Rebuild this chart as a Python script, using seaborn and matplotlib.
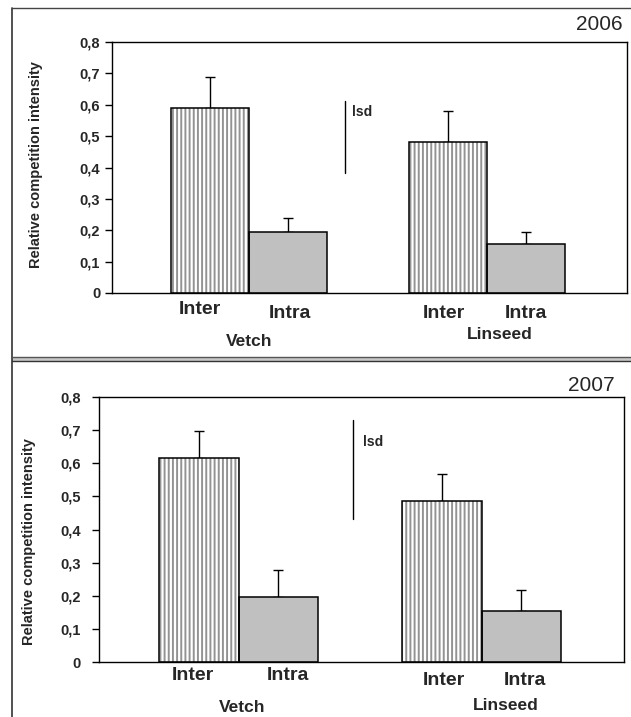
import matplotlib
matplotlib.use("Agg")
import matplotlib.pyplot as plt
from matplotlib.lines import Line2D
from matplotlib.patches import Rectangle
from matplotlib.ticker import FixedLocator, FuncFormatter
import seaborn as sns
import pandas as pd

# ---- data -------------------------------------------------------------
crops = ["Vetch", "Linseed"]
comp_types = ["Inter", "Intra"]

years = ["2006", "2007"]
# mean relative competition intensity, order: Vetch Inter, Vetch Intra, Linseed Inter, Linseed Intra
means_2006 = [0.59, 0.195, 0.48, 0.155]
errs_2006 = [0.10, 0.043, 0.10, 0.040]
means_2007 = [0.615, 0.195, 0.485, 0.155]
errs_2007 = [0.082, 0.083, 0.083, 0.062]

# least significant difference bar: (lower end, length)
lsd_2006 = (0.382, 0.23)
lsd_2007 = (0.431, 0.30)

y_ticks = [0, 0.1, 0.2, 0.3, 0.4, 0.5, 0.6, 0.7, 0.8]

# ---- style ------------------------------------------------------------
sns.set_theme(style="white")
plt.rcParams["font.family"] = ["Liberation Sans", "DejaVu Sans"]
plt.rcParams["hatch.linewidth"] = 1.4

W, H = 631, 717
fig = plt.figure(figsize=(W / 100, H / 100), dpi=100)
fig.patch.set_facecolor("white")

# outer frame of the two panels
fx = 12 / W
fig.add_artist(Line2D([fx, fx], [0, 1 - 8 / H], color="#333333", lw=1.2))
fig.add_artist(Line2D([fx, 1], [1 - 8 / H] * 2, color="#444444", lw=1.0))
fig.add_artist(Rectangle((fx, 1 - 360.5 / H), 1 - fx, 3 / H,
                         facecolor="#c8c8c8", edgecolor="none"))
fig.add_artist(Line2D([fx, 1], [1 - 357.5 / H] * 2, color="#555555", lw=1.0))
fig.add_artist(Line2D([fx, 1], [1 - 360.5 / H] * 2, color="#333333", lw=1.0))

panels = [
    dict(year="2006", means=means_2006, errs=errs_2006, lsd=lsd_2006,
         rect=[112 / W, 1 - 293 / H, 515 / W, 251 / H],
         ylab=(-0.1485, 0.51), year_pos=(0.992, 1.068),
         lsd_x=0.404, lsd_lab=(0.432, 0.578), pad=3.5,
         sub_y=[-0.0657, -0.0797, -0.0797, -0.0797],
         sub_dx=[-0.042, 0.01, -0.019, 0.0],
         grp_y=[-0.195, -0.167], grp_dx=[0.0, 0.052]),
    dict(year="2007", means=means_2007, errs=errs_2007, lsd=lsd_2007,
         rect=[99 / W, 1 - 662 / H, 525 / W, 265 / H],
         ylab=(-0.134, 0.455), year_pos=(0.983, 1.045),
         lsd_x=0.47, lsd_lab=(0.512, 0.663), pad=8,
         sub_y=[-0.051, -0.051, -0.0706, -0.0706],
         sub_dx=[-0.026, 0.041, 0.009, 0.014],
         grp_y=[-0.17, -0.166], grp_dx=[0.016, 0.10]),
]

for p in panels:
    ax = fig.add_axes(p["rect"])
    df = pd.DataFrame({
        "crop": [c for c in crops for _ in comp_types],
        "type": [t for _ in crops for t in comp_types],
        "value": p["means"],
        "err": p["errs"],
    })
    sns.barplot(data=df, x="crop", y="value", hue="type", order=crops,
                hue_order=comp_types, width=0.654, gap=0, errorbar=None,
                palette={"Inter": "white", "Intra": "#c0c0c0"},
                edgecolor="black", linewidth=1.1, legend=False, ax=ax,
                zorder=2)

    # vertical stripes for interspecific bars, outline kept black
    for bar in ax.containers[0].patches:
        bar.set_hatch("||||")
        bar.set_edgecolor("#939393")
        bar.set_linewidth(0)
        ax.add_patch(Rectangle(bar.get_xy(), bar.get_width(), bar.get_height(),
                               fill=False, edgecolor="black", lw=1.1, zorder=3))

    # one-sided error bars
    for hi, t in enumerate(comp_types):
        for ci, c in enumerate(crops):
            bar = ax.containers[hi].patches[ci]
            row = df[(df.crop == c) & (df.type == t)].iloc[0]
            xc = bar.get_x() + bar.get_width() / 2
            ax.errorbar([xc], [row.value], yerr=[[0], [row.err]], fmt="none",
                        ecolor="black", elinewidth=1.0, capsize=3.6,
                        capthick=1.0, zorder=1)
            k = ci * 2 + hi
            ax.text(xc + p["sub_dx"][k], p["sub_y"][k], t,
                    transform=ax.get_xaxis_transform(), ha="center",
                    va="center", fontsize=14, fontweight="bold")

    for ci, c in enumerate(crops):
        ax.text(ci + p["grp_dx"][ci], p["grp_y"][ci], c,
                transform=ax.get_xaxis_transform(), ha="center", va="center",
                fontsize=12.5, fontweight="bold")

    # lsd bar
    lo, ln = p["lsd"]
    ax.plot([p["lsd_x"], p["lsd_x"]], [lo, lo + ln], color="black", lw=1.0)
    ax.text(p["lsd_lab"][0], p["lsd_lab"][1], "lsd", ha="left", va="center",
            fontsize=10, fontweight="bold")

    ax.set_xlim(-0.574, 1.586)
    ax.set_ylim(0, 0.8)
    ax.yaxis.set_major_locator(FixedLocator(y_ticks))
    ax.yaxis.set_major_formatter(
        FuncFormatter(lambda v, _: "0" if v == 0 else f"{v:.1f}".replace(".", ",")))
    ax.set_xticks([])
    ax.set_xlabel("")
    ax.set_ylabel("")
    ax.tick_params(axis="y", which="major", left=True, length=5, width=1,
                   direction="out", pad=p["pad"], labelsize=10.5, color="black")
    for lab in ax.get_yticklabels():
        lab.set_fontweight("bold")
    for s in ax.spines.values():
        s.set_visible(True)
        s.set_color("black")
        s.set_linewidth(1.0)

    ax.text(p["ylab"][0], p["ylab"][1], "Relative competition intensity",
            transform=ax.transAxes, rotation=90, ha="center", va="center",
            fontsize=10.5, fontweight="bold")
    ax.text(p["year_pos"][0], p["year_pos"][1], p["year"],
            transform=ax.transAxes, ha="right", va="center", fontsize=15)

fig.savefig("out.png", dpi=100, facecolor="white")
